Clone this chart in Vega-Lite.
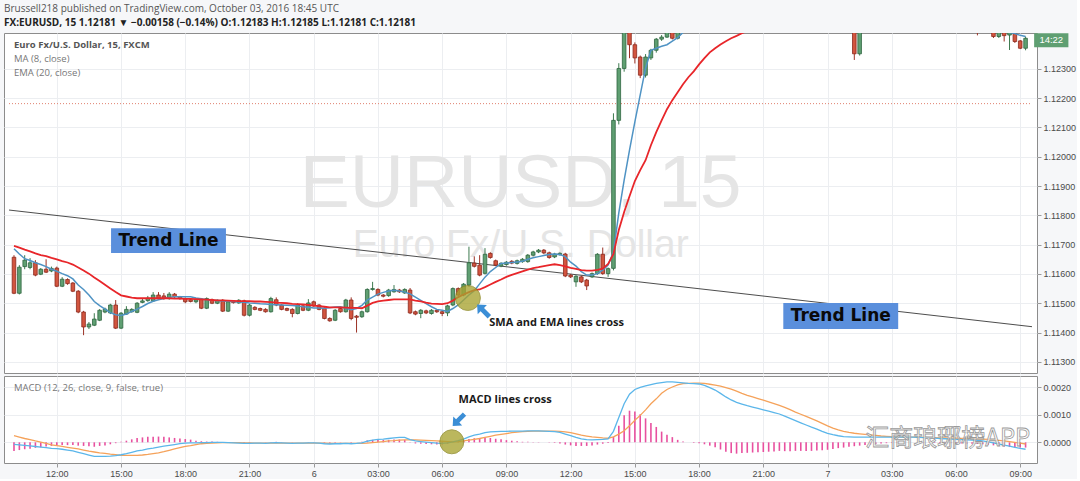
{
  "$schema": "https://vega.github.io/schema/vega-lite/v6.json",
  "background": "#f6f7f9",
  "padding": {"left": 3, "top": 3, "right": 0, "bottom": 0},
  "title": {
    "text": "Brussell218 published on TradingView.com, October 03, 2016 18:45 UTC",
    "subtitle": "FX:EURUSD, 15  1.12181 ▼ −0.00158 (−0.14%)  O:1.12183  H:1.12185  L:1.12181  C:1.12181",
    "anchor": "start",
    "frame": "group",
    "font": "Open Sans",
    "fontSize": 10,
    "fontWeight": "normal",
    "color": "#555555",
    "subtitleFont": "Open Sans",
    "subtitleFontSize": 10,
    "subtitleFontWeight": "bold",
    "subtitleColor": "#222222",
    "subtitlePadding": 4,
    "offset": 5
  },
  "datasets": {
    "candles": [
      {"t":"2016-09-05T10:00Z","o":1.11657,"h":1.11664,"l":1.11531,"c":1.11534,"ma":1.11686,"ema":1.11696,"m":-0.00007,"s":0.00024,"hi":-0.00031},
      {"t":"2016-09-05T10:15Z","o":1.11534,"h":1.11630,"l":1.11530,"c":1.11623,"ma":1.11668,"ema":1.11690,"m":-0.00009,"s":0.00019,"hi":-0.00028},
      {"t":"2016-09-05T10:30Z","o":1.11625,"h":1.11664,"l":1.11616,"c":1.11647,"ma":1.11652,"ema":1.11683,"m":-0.00011,"s":0.00014,"hi":-0.00025},
      {"t":"2016-09-05T10:45Z","o":1.11622,"h":1.11654,"l":1.11616,"c":1.11638,"ma":1.11646,"ema":1.11677,"m":-0.00013,"s":0.00010,"hi":-0.00023},
      {"t":"2016-09-05T11:00Z","o":1.11638,"h":1.11647,"l":1.11592,"c":1.11596,"ma":1.11638,"ema":1.11670,"m":-0.00015,"s":0.00005,"hi":-0.00020},
      {"t":"2016-09-05T11:15Z","o":1.11599,"h":1.11620,"l":1.11596,"c":1.11616,"ma":1.11632,"ema":1.11664,"m":-0.00017,"s":0.00001,"hi":-0.00018},
      {"t":"2016-09-05T11:30Z","o":1.11616,"h":1.11650,"l":1.11603,"c":1.11606,"ma":1.11625,"ema":1.11661,"m":-0.00019,"s":-0.00004,"hi":-0.00015},
      {"t":"2016-09-05T11:45Z","o":1.11610,"h":1.11625,"l":1.11606,"c":1.11619,"ma":1.11616,"ema":1.11655,"m":-0.00022,"s":-0.00009,"hi":-0.00013},
      {"t":"2016-09-05T12:00Z","o":1.11620,"h":1.11625,"l":1.11555,"c":1.11558,"ma":1.11609,"ema":1.11650,"m":-0.00023,"s":-0.00012,"hi":-0.00011},
      {"t":"2016-09-05T12:15Z","o":1.11558,"h":1.11589,"l":1.11555,"c":1.11582,"ma":1.11601,"ema":1.11644,"m":-0.00025,"s":-0.00015,"hi":-0.00010},
      {"t":"2016-09-05T12:30Z","o":1.11581,"h":1.11585,"l":1.11563,"c":1.11567,"ma":1.11594,"ema":1.11639,"m":-0.00028,"s":-0.00018,"hi":-0.00010},
      {"t":"2016-09-05T12:45Z","o":1.11569,"h":1.11572,"l":1.11538,"c":1.11541,"ma":1.11583,"ema":1.11632,"m":-0.00031,"s":-0.00021,"hi":-0.00010},
      {"t":"2016-09-05T13:00Z","o":1.11541,"h":1.11545,"l":1.11466,"c":1.11470,"ma":1.11562,"ema":1.11622,"m":-0.00036,"s":-0.00024,"hi":-0.00012},
      {"t":"2016-09-05T13:15Z","o":1.11470,"h":1.11474,"l":1.11391,"c":1.11419,"ma":1.11547,"ema":1.11612,"m":-0.00041,"s":-0.00028,"hi":-0.00013},
      {"t":"2016-09-05T13:30Z","o":1.11419,"h":1.11436,"l":1.11412,"c":1.11429,"ma":1.11528,"ema":1.11601,"m":-0.00046,"s":-0.00032,"hi":-0.00014},
      {"t":"2016-09-05T13:45Z","o":1.11425,"h":1.11466,"l":1.11422,"c":1.11446,"ma":1.11506,"ema":1.11588,"m":-0.00051,"s":-0.00035,"hi":-0.00016},
      {"t":"2016-09-05T14:00Z","o":1.11442,"h":1.11480,"l":1.11439,"c":1.11476,"ma":1.11492,"ema":1.11576,"m":-0.00051,"s":-0.00038,"hi":-0.00013},
      {"t":"2016-09-05T14:15Z","o":1.11470,"h":1.11485,"l":1.11466,"c":1.11480,"ma":1.11480,"ema":1.11563,"m":-0.00051,"s":-0.00040,"hi":-0.00011},
      {"t":"2016-09-05T14:30Z","o":1.11467,"h":1.11498,"l":1.11463,"c":1.11494,"ma":1.11468,"ema":1.11550,"m":-0.00050,"s":-0.00043,"hi":-0.00007},
      {"t":"2016-09-05T14:45Z","o":1.11494,"h":1.11511,"l":1.11412,"c":1.11415,"ma":1.11461,"ema":1.11538,"m":-0.00048,"s":-0.00045,"hi":-0.00003},
      {"t":"2016-09-05T15:00Z","o":1.11415,"h":1.11470,"l":1.11412,"c":1.11466,"ma":1.11458,"ema":1.11527,"m":-0.00045,"s":-0.00047,"hi":0.00002},
      {"t":"2016-09-05T15:15Z","o":1.11463,"h":1.11490,"l":1.11460,"c":1.11479,"ma":1.11463,"ema":1.11523,"m":-0.00041,"s":-0.00047,"hi":0.00006},
      {"t":"2016-09-05T15:30Z","o":1.11471,"h":1.11483,"l":1.11468,"c":1.11479,"ma":1.11472,"ema":1.11519,"m":-0.00036,"s":-0.00047,"hi":0.00011},
      {"t":"2016-09-05T15:45Z","o":1.11469,"h":1.11504,"l":1.11466,"c":1.11500,"ma":1.11480,"ema":1.11517,"m":-0.00031,"s":-0.00047,"hi":0.00016},
      {"t":"2016-09-05T16:00Z","o":1.11503,"h":1.11517,"l":1.11500,"c":1.11508,"ma":1.11489,"ema":1.11517,"m":-0.00028,"s":-0.00046,"hi":0.00018},
      {"t":"2016-09-05T16:15Z","o":1.11509,"h":1.11525,"l":1.11505,"c":1.11517,"ma":1.11499,"ema":1.11517,"m":-0.00024,"s":-0.00044,"hi":0.00020},
      {"t":"2016-09-05T16:30Z","o":1.11508,"h":1.11538,"l":1.11505,"c":1.11528,"ma":1.11507,"ema":1.11517,"m":-0.00021,"s":-0.00041,"hi":0.00020},
      {"t":"2016-09-05T16:45Z","o":1.11528,"h":1.11538,"l":1.11512,"c":1.11516,"ma":1.11512,"ema":1.11517,"m":-0.00017,"s":-0.00038,"hi":0.00021},
      {"t":"2016-09-05T17:00Z","o":1.11525,"h":1.11535,"l":1.11512,"c":1.11516,"ma":1.11516,"ema":1.11517,"m":-0.00014,"s":-0.00034,"hi":0.00020},
      {"t":"2016-09-05T17:15Z","o":1.11516,"h":1.11538,"l":1.11512,"c":1.11531,"ma":1.11520,"ema":1.11517,"m":-0.00011,"s":-0.00029,"hi":0.00018},
      {"t":"2016-09-05T17:30Z","o":1.11531,"h":1.11535,"l":1.11518,"c":1.11522,"ma":1.11522,"ema":1.11516,"m":-0.00008,"s":-0.00024,"hi":0.00016},
      {"t":"2016-09-05T17:45Z","o":1.11522,"h":1.11525,"l":1.11512,"c":1.11516,"ma":1.11522,"ema":1.11516,"m":-0.00005,"s":-0.00019,"hi":0.00014},
      {"t":"2016-09-05T18:00Z","o":1.11516,"h":1.11520,"l":1.11500,"c":1.11505,"ma":1.11522,"ema":1.11515,"m":-0.00003,"s":-0.00015,"hi":0.00012},
      {"t":"2016-09-05T18:15Z","o":1.11512,"h":1.11516,"l":1.11503,"c":1.11506,"ma":1.11522,"ema":1.11515,"m":-0.00002,"s":-0.00012,"hi":0.00010},
      {"t":"2016-09-05T18:30Z","o":1.11505,"h":1.11516,"l":1.11500,"c":1.11512,"ma":1.11518,"ema":1.11514,"m":-0.00002,"s":-0.00008,"hi":0.00006},
      {"t":"2016-09-05T18:45Z","o":1.11514,"h":1.11518,"l":1.11480,"c":1.11483,"ma":1.11515,"ema":1.11513,"m":-0.00001,"s":-0.00005,"hi":0.00004},
      {"t":"2016-09-05T19:00Z","o":1.11483,"h":1.11520,"l":1.11480,"c":1.11516,"ma":1.11512,"ema":1.11512,"m":-0.00001,"s":-0.00004,"hi":0.00003},
      {"t":"2016-09-05T19:15Z","o":1.11512,"h":1.11516,"l":1.11497,"c":1.11500,"ma":1.11510,"ema":1.11511,"m":0,"s":-0.00003,"hi":0.00003},
      {"t":"2016-09-05T19:30Z","o":1.11500,"h":1.11513,"l":1.11497,"c":1.11510,"ma":1.11509,"ema":1.11510,"m":0,"s":-0.00002,"hi":0.00002},
      {"t":"2016-09-05T19:45Z","o":1.11510,"h":1.11514,"l":1.11470,"c":1.11473,"ma":1.11508,"ema":1.11510,"m":0,"s":-0.00001,"hi":0.00001},
      {"t":"2016-09-05T20:00Z","o":1.11473,"h":1.11510,"l":1.11470,"c":1.11505,"ma":1.11507,"ema":1.11509,"m":-0.00001,"s":-0.00001,"hi":0},
      {"t":"2016-09-05T20:15Z","o":1.11508,"h":1.11511,"l":1.11499,"c":1.11502,"ma":1.11506,"ema":1.11508,"m":-0.00002,"s":-0.00001,"hi":-0.00001},
      {"t":"2016-09-05T20:30Z","o":1.11501,"h":1.11514,"l":1.11498,"c":1.11510,"ma":1.11504,"ema":1.11507,"m":-0.00003,"s":-0.00001,"hi":-0.00002},
      {"t":"2016-09-05T20:45Z","o":1.11508,"h":1.11512,"l":1.11455,"c":1.11459,"ma":1.11503,"ema":1.11507,"m":-0.00004,"s":-0.00002,"hi":-0.00002},
      {"t":"2016-09-05T21:00Z","o":1.11459,"h":1.11498,"l":1.11455,"c":1.11494,"ma":1.11501,"ema":1.11507,"m":-0.00004,"s":-0.00002,"hi":-0.00002},
      {"t":"2016-09-05T21:15Z","o":1.11486,"h":1.11490,"l":1.11476,"c":1.11479,"ma":1.11500,"ema":1.11506,"m":-0.00003,"s":-0.00003,"hi":0},
      {"t":"2016-09-05T21:30Z","o":1.11482,"h":1.11485,"l":1.11473,"c":1.11476,"ma":1.11498,"ema":1.11506,"m":-0.00003,"s":-0.00003,"hi":0},
      {"t":"2016-09-05T21:45Z","o":1.11479,"h":1.11483,"l":1.11468,"c":1.11471,"ma":1.11497,"ema":1.11505,"m":-0.00004,"s":-0.00003,"hi":-0.00001},
      {"t":"2016-09-05T22:00Z","o":1.11471,"h":1.11522,"l":1.11468,"c":1.11516,"ma":1.11496,"ema":1.11504,"m":-0.00002,"s":-0.00003,"hi":0.00001},
      {"t":"2016-09-05T22:15Z","o":1.11512,"h":1.11520,"l":1.11490,"c":1.11494,"ma":1.11495,"ema":1.11502,"m":-0.00001,"s":-0.00003,"hi":0.00002},
      {"t":"2016-09-05T22:30Z","o":1.11494,"h":1.11497,"l":1.11476,"c":1.11479,"ma":1.11494,"ema":1.11501,"m":-0.00002,"s":-0.00003,"hi":0.00001},
      {"t":"2016-09-05T22:45Z","o":1.11482,"h":1.11485,"l":1.11473,"c":1.11476,"ma":1.11493,"ema":1.11500,"m":-0.00003,"s":-0.00003,"hi":0},
      {"t":"2016-09-05T23:00Z","o":1.11479,"h":1.11483,"l":1.11452,"c":1.11465,"ma":1.11492,"ema":1.11498,"m":-0.00004,"s":-0.00003,"hi":-0.00001},
      {"t":"2016-09-05T23:15Z","o":1.11465,"h":1.11500,"l":1.11462,"c":1.11494,"ma":1.11491,"ema":1.11497,"m":-0.00003,"s":-0.00003,"hi":0},
      {"t":"2016-09-05T23:30Z","o":1.11491,"h":1.11495,"l":1.11473,"c":1.11476,"ma":1.11488,"ema":1.11496,"m":-0.00003,"s":-0.00003,"hi":0},
      {"t":"2016-09-05T23:45Z","o":1.11476,"h":1.11514,"l":1.11473,"c":1.11501,"ma":1.11486,"ema":1.11494,"m":-0.00002,"s":-0.00003,"hi":0.00001},
      {"t":"2016-09-06T00:00Z","o":1.11505,"h":1.11509,"l":1.11488,"c":1.11491,"ma":1.11484,"ema":1.11492,"m":-0.00002,"s":-0.00003,"hi":0.00001},
      {"t":"2016-09-06T00:15Z","o":1.11494,"h":1.11497,"l":1.11476,"c":1.11479,"ma":1.11484,"ema":1.11490,"m":-0.00003,"s":-0.00003,"hi":0},
      {"t":"2016-09-06T00:30Z","o":1.11482,"h":1.11486,"l":1.11445,"c":1.11448,"ma":1.11483,"ema":1.11488,"m":-0.00005,"s":-0.00003,"hi":-0.00002},
      {"t":"2016-09-06T00:45Z","o":1.11448,"h":1.11452,"l":1.11437,"c":1.11440,"ma":1.11485,"ema":1.11486,"m":-0.00006,"s":-0.00004,"hi":-0.00002},
      {"t":"2016-09-06T01:00Z","o":1.11442,"h":1.11480,"l":1.11439,"c":1.11476,"ma":1.11487,"ema":1.11486,"m":-0.00005,"s":-0.00004,"hi":-0.00001},
      {"t":"2016-09-06T01:15Z","o":1.11482,"h":1.11486,"l":1.11468,"c":1.11471,"ma":1.11488,"ema":1.11486,"m":-0.00005,"s":-0.00004,"hi":-0.00001},
      {"t":"2016-09-06T01:30Z","o":1.11471,"h":1.11515,"l":1.11468,"c":1.11511,"ma":1.11483,"ema":1.11485,"m":-0.00004,"s":-0.00004,"hi":0},
      {"t":"2016-09-06T01:45Z","o":1.11511,"h":1.11520,"l":1.11442,"c":1.11448,"ma":1.11478,"ema":1.11484,"m":-0.00005,"s":-0.00004,"hi":-0.00001},
      {"t":"2016-09-06T02:00Z","o":1.11456,"h":1.11460,"l":1.11400,"c":1.11452,"ma":1.11482,"ema":1.11484,"m":-0.00004,"s":-0.00004,"hi":0},
      {"t":"2016-09-06T02:15Z","o":1.11454,"h":1.11475,"l":1.11450,"c":1.11471,"ma":1.11493,"ema":1.11483,"m":-0.00002,"s":-0.00004,"hi":0.00002},
      {"t":"2016-09-06T02:30Z","o":1.11471,"h":1.11551,"l":1.11468,"c":1.11547,"ma":1.11511,"ema":1.11492,"m":0.00004,"s":-0.00003,"hi":0.00007},
      {"t":"2016-09-06T02:45Z","o":1.11547,"h":1.11573,"l":1.11543,"c":1.11550,"ma":1.11521,"ema":1.11501,"m":0.00008,"s":-0.00001,"hi":0.00009},
      {"t":"2016-09-06T03:00Z","o":1.11547,"h":1.11551,"l":1.11524,"c":1.11528,"ma":1.11531,"ema":1.11506,"m":0.00011,"s":0.00001,"hi":0.00010},
      {"t":"2016-09-06T03:15Z","o":1.11528,"h":1.11531,"l":1.11520,"c":1.11524,"ma":1.11537,"ema":1.11509,"m":0.00012,"s":0.00003,"hi":0.00009},
      {"t":"2016-09-06T03:30Z","o":1.11526,"h":1.11549,"l":1.11522,"c":1.11545,"ma":1.11542,"ema":1.11511,"m":0.00014,"s":0.00005,"hi":0.00009},
      {"t":"2016-09-06T03:45Z","o":1.11539,"h":1.11562,"l":1.11536,"c":1.11547,"ma":1.11544,"ema":1.11513,"m":0.00016,"s":0.00006,"hi":0.00010},
      {"t":"2016-09-06T04:00Z","o":1.11545,"h":1.11549,"l":1.11535,"c":1.11539,"ma":1.11542,"ema":1.11513,"m":0.00018,"s":0.00008,"hi":0.00010},
      {"t":"2016-09-06T04:15Z","o":1.11535,"h":1.11551,"l":1.11532,"c":1.11547,"ma":1.11538,"ema":1.11513,"m":0.00018,"s":0.00009,"hi":0.00009},
      {"t":"2016-09-06T04:30Z","o":1.11545,"h":1.11552,"l":1.11463,"c":1.11467,"ma":1.11532,"ema":1.11513,"m":0.00010,"s":0.00009,"hi":0.00001},
      {"t":"2016-09-06T04:45Z","o":1.11471,"h":1.11475,"l":1.11459,"c":1.11463,"ma":1.11521,"ema":1.11509,"m":0.00005,"s":0.00009,"hi":-0.00004},
      {"t":"2016-09-06T05:00Z","o":1.11465,"h":1.11480,"l":1.11449,"c":1.11476,"ma":1.11510,"ema":1.11506,"m":0.00003,"s":0.00008,"hi":-0.00005},
      {"t":"2016-09-06T05:15Z","o":1.11474,"h":1.11478,"l":1.11463,"c":1.11467,"ma":1.11499,"ema":1.11502,"m":0.00001,"s":0.00007,"hi":-0.00006},
      {"t":"2016-09-06T05:30Z","o":1.11465,"h":1.11480,"l":1.11461,"c":1.11476,"ma":1.11488,"ema":1.11499,"m":-0.00001,"s":0.00006,"hi":-0.00007},
      {"t":"2016-09-06T05:45Z","o":1.11476,"h":1.11480,"l":1.11467,"c":1.11471,"ma":1.11479,"ema":1.11498,"m":-0.00003,"s":0.00005,"hi":-0.00008},
      {"t":"2016-09-06T06:00Z","o":1.11471,"h":1.11475,"l":1.11456,"c":1.11465,"ma":1.11476,"ema":1.11497,"m":-0.00004,"s":0.00004,"hi":-0.00008},
      {"t":"2016-09-06T06:15Z","o":1.11467,"h":1.11495,"l":1.11456,"c":1.11491,"ma":1.11472,"ema":1.11500,"m":-0.00002,"s":0.00003,"hi":-0.00005},
      {"t":"2016-09-06T06:30Z","o":1.11494,"h":1.11554,"l":1.11490,"c":1.11550,"ma":1.11482,"ema":1.11509,"m":0.00002,"s":0.00002,"hi":0},
      {"t":"2016-09-06T06:45Z","o":1.11550,"h":1.11554,"l":1.11524,"c":1.11528,"ma":1.11494,"ema":1.11521,"m":0.00006,"s":0.00003,"hi":0.00003},
      {"t":"2016-09-06T07:00Z","o":1.11528,"h":1.11569,"l":1.11524,"c":1.11565,"ma":1.11511,"ema":1.11530,"m":0.00012,"s":0.00005,"hi":0.00007},
      {"t":"2016-09-06T07:15Z","o":1.11562,"h":1.11693,"l":1.11556,"c":1.11638,"ma":1.11528,"ema":1.11538,"m":0.00020,"s":0.00008,"hi":0.00012},
      {"t":"2016-09-06T07:30Z","o":1.11637,"h":1.11660,"l":1.11622,"c":1.11626,"ma":1.11543,"ema":1.11545,"m":0.00026,"s":0.00011,"hi":0.00015},
      {"t":"2016-09-06T07:45Z","o":1.11630,"h":1.11664,"l":1.11592,"c":1.11596,"ma":1.11566,"ema":1.11547,"m":0.00030,"s":0.00014,"hi":0.00016},
      {"t":"2016-09-06T08:00Z","o":1.11602,"h":1.11688,"l":1.11598,"c":1.11667,"ma":1.11589,"ema":1.11555,"m":0.00035,"s":0.00018,"hi":0.00017},
      {"t":"2016-09-06T08:15Z","o":1.11670,"h":1.11674,"l":1.11652,"c":1.11656,"ma":1.11608,"ema":1.11564,"m":0.00038,"s":0.00022,"hi":0.00016},
      {"t":"2016-09-06T08:30Z","o":1.11645,"h":1.11649,"l":1.11626,"c":1.11630,"ma":1.11622,"ema":1.11573,"m":0.00039,"s":0.00026,"hi":0.00013},
      {"t":"2016-09-06T08:45Z","o":1.11627,"h":1.11640,"l":1.11623,"c":1.11636,"ma":1.11636,"ema":1.11581,"m":0.00040,"s":0.00029,"hi":0.00011},
      {"t":"2016-09-06T09:00Z","o":1.11632,"h":1.11644,"l":1.11628,"c":1.11640,"ma":1.11637,"ema":1.11590,"m":0.00040,"s":0.00032,"hi":0.00008},
      {"t":"2016-09-06T09:15Z","o":1.11643,"h":1.11647,"l":1.11633,"c":1.11637,"ma":1.11639,"ema":1.11597,"m":0.00041,"s":0.00035,"hi":0.00006},
      {"t":"2016-09-06T09:30Z","o":1.11636,"h":1.11649,"l":1.11632,"c":1.11645,"ma":1.11641,"ema":1.11603,"m":0.00041,"s":0.00037,"hi":0.00004},
      {"t":"2016-09-06T09:45Z","o":1.11642,"h":1.11654,"l":1.11638,"c":1.11650,"ma":1.11643,"ema":1.11609,"m":0.00041,"s":0.00039,"hi":0.00002},
      {"t":"2016-09-06T10:00Z","o":1.11642,"h":1.11668,"l":1.11638,"c":1.11664,"ma":1.11650,"ema":1.11615,"m":0.00042,"s":0.00040,"hi":0.00002},
      {"t":"2016-09-06T10:15Z","o":1.11664,"h":1.11679,"l":1.11660,"c":1.11675,"ma":1.11655,"ema":1.11620,"m":0.00042,"s":0.00041,"hi":0.00001},
      {"t":"2016-09-06T10:30Z","o":1.11675,"h":1.11685,"l":1.11671,"c":1.11681,"ma":1.11659,"ema":1.11623,"m":0.00042,"s":0.00041,"hi":0.00001},
      {"t":"2016-09-06T10:45Z","o":1.11681,"h":1.11685,"l":1.11668,"c":1.11672,"ma":1.11663,"ema":1.11627,"m":0.00041,"s":0.00041,"hi":0},
      {"t":"2016-09-06T11:00Z","o":1.11672,"h":1.11676,"l":1.11652,"c":1.11656,"ma":1.11666,"ema":1.11630,"m":0.00040,"s":0.00041,"hi":-0.00001},
      {"t":"2016-09-06T11:15Z","o":1.11658,"h":1.11672,"l":1.11654,"c":1.11668,"ma":1.11668,"ema":1.11633,"m":0.00039,"s":0.00041,"hi":-0.00002},
      {"t":"2016-09-06T11:30Z","o":1.11666,"h":1.11674,"l":1.11662,"c":1.11670,"ma":1.11666,"ema":1.11630,"m":0.00036,"s":0.00040,"hi":-0.00004},
      {"t":"2016-09-06T11:45Z","o":1.11668,"h":1.11672,"l":1.11589,"c":1.11593,"ma":1.11659,"ema":1.11626,"m":0.00030,"s":0.00038,"hi":-0.00008},
      {"t":"2016-09-06T12:00Z","o":1.11596,"h":1.11600,"l":1.11586,"c":1.11590,"ma":1.11640,"ema":1.11621,"m":0.00024,"s":0.00035,"hi":-0.00011},
      {"t":"2016-09-06T12:15Z","o":1.11573,"h":1.11596,"l":1.11556,"c":1.11592,"ma":1.11627,"ema":1.11617,"m":0.00018,"s":0.00031,"hi":-0.00013},
      {"t":"2016-09-06T12:30Z","o":1.11590,"h":1.11594,"l":1.11569,"c":1.11573,"ma":1.11608,"ema":1.11613,"m":0.00013,"s":0.00026,"hi":-0.00013},
      {"t":"2016-09-06T12:45Z","o":1.11579,"h":1.11583,"l":1.11545,"c":1.11559,"ma":1.11596,"ema":1.11611,"m":0.00010,"s":0.00023,"hi":-0.00013},
      {"t":"2016-09-06T13:00Z","o":1.11590,"h":1.11605,"l":1.11586,"c":1.11601,"ma":1.11596,"ema":1.11611,"m":0.00009,"s":0.00020,"hi":-0.00011},
      {"t":"2016-09-06T13:15Z","o":1.11601,"h":1.11671,"l":1.11597,"c":1.11667,"ma":1.11601,"ema":1.11614,"m":0.00010,"s":0.00018,"hi":-0.00008},
      {"t":"2016-09-06T13:30Z","o":1.11667,"h":1.11690,"l":1.11597,"c":1.11601,"ma":1.11613,"ema":1.11618,"m":0.00011,"s":0.00016,"hi":-0.00005},
      {"t":"2016-09-06T13:45Z","o":1.11601,"h":1.11622,"l":1.11590,"c":1.11618,"ma":1.11630,"ema":1.11634,"m":0.00013,"s":0.00015,"hi":-0.00002},
      {"t":"2016-09-06T14:00Z","o":1.11619,"h":1.12148,"l":1.11612,"c":1.12124,"ma":1.11675,"ema":1.11668,"m":0.00040,"s":0.00020,"hi":0.00020},
      {"t":"2016-09-06T14:15Z","o":1.12124,"h":1.12319,"l":1.12110,"c":1.12301,"ma":1.11808,"ema":1.11750,"m":0.00090,"s":0.00030,"hi":0.00060},
      {"t":"2016-09-06T14:30Z","o":1.12301,"h":1.12460,"l":1.12290,"c":1.12440,"ma":1.11920,"ema":1.11811,"m":0.00140,"s":0.00042,"hi":0.00098},
      {"t":"2016-09-06T14:45Z","o":1.12430,"h":1.12445,"l":1.12336,"c":1.12382,"ma":1.12022,"ema":1.11865,"m":0.00175,"s":0.00060,"hi":0.00115},
      {"t":"2016-09-06T15:00Z","o":1.12382,"h":1.12390,"l":1.12318,"c":1.12337,"ma":1.12119,"ema":1.11917,"m":0.00192,"s":0.00080,"hi":0.00112},
      {"t":"2016-09-06T15:15Z","o":1.12340,"h":1.12345,"l":1.12268,"c":1.12278,"ma":1.12211,"ema":1.11954,"m":0.00200,"s":0.00098,"hi":0.00102},
      {"t":"2016-09-06T15:30Z","o":1.12278,"h":1.12350,"l":1.12270,"c":1.12340,"ma":1.12302,"ema":1.11988,"m":0.00205,"s":0.00118,"hi":0.00087},
      {"t":"2016-09-06T15:45Z","o":1.12337,"h":1.12368,"l":1.12330,"c":1.12363,"ma":1.12363,"ema":1.12039,"m":0.00210,"s":0.00140,"hi":0.00070},
      {"t":"2016-09-06T16:00Z","o":1.12363,"h":1.12405,"l":1.12355,"c":1.12401,"ma":1.12370,"ema":1.12084,"m":0.00214,"s":0.00158,"hi":0.00056},
      {"t":"2016-09-06T16:15Z","o":1.12401,"h":1.12415,"l":1.12395,"c":1.12408,"ma":1.12377,"ema":1.12124,"m":0.00217,"s":0.00178,"hi":0.00039},
      {"t":"2016-09-06T16:30Z","o":1.12408,"h":1.12440,"l":1.12405,"c":1.12428,"ma":1.12382,"ema":1.12162,"m":0.00220,"s":0.00192,"hi":0.00028},
      {"t":"2016-09-06T16:45Z","o":1.12432,"h":1.12440,"l":1.12400,"c":1.12404,"ma":1.12394,"ema":1.12193,"m":0.00220,"s":0.00201,"hi":0.00019},
      {"t":"2016-09-06T17:00Z","o":1.12404,"h":1.12450,"l":1.12400,"c":1.12440,"ma":1.12406,"ema":1.12220,"m":0.00218,"s":0.00209,"hi":0.00009},
      {"t":"2016-09-06T17:15Z","o":1.12440,"h":1.12475,"l":1.12432,"c":1.12468,"ma":1.12424,"ema":1.12247,"m":0.00216,"s":0.00213,"hi":0.00003},
      {"t":"2016-09-06T17:30Z","o":1.12468,"h":1.12505,"l":1.12460,"c":1.12498,"ma":1.12435,"ema":1.12271,"m":0.00214,"s":0.00214,"hi":0},
      {"t":"2016-09-06T17:45Z","o":1.12498,"h":1.12520,"l":1.12480,"c":1.12490,"ma":1.12445,"ema":1.12291,"m":0.00213,"s":0.00215,"hi":-0.00002},
      {"t":"2016-09-06T18:00Z","o":1.12490,"h":1.12530,"l":1.12485,"c":1.12522,"ma":1.12458,"ema":1.12315,"m":0.00212,"s":0.00215,"hi":-0.00003},
      {"t":"2016-09-06T18:15Z","o":1.12522,"h":1.12545,"l":1.12505,"c":1.12510,"ma":1.12470,"ema":1.12336,"m":0.00207,"s":0.00214,"hi":-0.00007},
      {"t":"2016-09-06T18:30Z","o":1.12510,"h":1.12530,"l":1.12490,"c":1.12525,"ma":1.12490,"ema":1.12356,"m":0.00199,"s":0.00211,"hi":-0.00012},
      {"t":"2016-09-06T18:45Z","o":1.12525,"h":1.12560,"l":1.12515,"c":1.12548,"ma":1.12505,"ema":1.12370,"m":0.00190,"s":0.00208,"hi":-0.00018},
      {"t":"2016-09-06T19:00Z","o":1.12548,"h":1.12570,"l":1.12530,"c":1.12540,"ma":1.12515,"ema":1.12383,"m":0.00178,"s":0.00204,"hi":-0.00026},
      {"t":"2016-09-06T19:15Z","o":1.12540,"h":1.12555,"l":1.12520,"c":1.12532,"ma":1.12522,"ema":1.12394,"m":0.00165,"s":0.00199,"hi":-0.00034},
      {"t":"2016-09-06T19:30Z","o":1.12532,"h":1.12548,"l":1.12512,"c":1.12520,"ma":1.12527,"ema":1.12404,"m":0.00154,"s":0.00193,"hi":-0.00039},
      {"t":"2016-09-06T19:45Z","o":1.12520,"h":1.12540,"l":1.12505,"c":1.12530,"ma":1.12530,"ema":1.12412,"m":0.00145,"s":0.00186,"hi":-0.00041},
      {"t":"2016-09-06T20:00Z","o":1.12530,"h":1.12560,"l":1.12520,"c":1.12552,"ma":1.12532,"ema":1.12421,"m":0.00139,"s":0.00178,"hi":-0.00039},
      {"t":"2016-09-06T20:15Z","o":1.12552,"h":1.12575,"l":1.12540,"c":1.12545,"ma":1.12535,"ema":1.12429,"m":0.00133,"s":0.00171,"hi":-0.00038},
      {"t":"2016-09-06T20:30Z","o":1.12545,"h":1.12560,"l":1.12525,"c":1.12530,"ma":1.12535,"ema":1.12436,"m":0.00128,"s":0.00165,"hi":-0.00037},
      {"t":"2016-09-06T20:45Z","o":1.12530,"h":1.12545,"l":1.12510,"c":1.12518,"ma":1.12533,"ema":1.12442,"m":0.00123,"s":0.00159,"hi":-0.00036},
      {"t":"2016-09-06T21:00Z","o":1.12518,"h":1.12535,"l":1.12500,"c":1.12525,"ma":1.12532,"ema":1.12447,"m":0.00118,"s":0.00153,"hi":-0.00035},
      {"t":"2016-09-06T21:15Z","o":1.12525,"h":1.12540,"l":1.12512,"c":1.12520,"ma":1.12530,"ema":1.12452,"m":0.00113,"s":0.00147,"hi":-0.00034},
      {"t":"2016-09-06T21:30Z","o":1.12520,"h":1.12532,"l":1.12505,"c":1.12512,"ma":1.12527,"ema":1.12456,"m":0.00108,"s":0.00141,"hi":-0.00033},
      {"t":"2016-09-06T21:45Z","o":1.12512,"h":1.12528,"l":1.12500,"c":1.12520,"ma":1.12524,"ema":1.12460,"m":0.00103,"s":0.00134,"hi":-0.00031},
      {"t":"2016-09-06T22:00Z","o":1.12520,"h":1.12535,"l":1.12508,"c":1.12515,"ma":1.12521,"ema":1.12463,"m":0.00095,"s":0.00127,"hi":-0.00032},
      {"t":"2016-09-06T22:15Z","o":1.12515,"h":1.12525,"l":1.12500,"c":1.12508,"ma":1.12518,"ema":1.12466,"m":0.00087,"s":0.00119,"hi":-0.00032},
      {"t":"2016-09-06T22:30Z","o":1.12508,"h":1.12520,"l":1.12495,"c":1.12512,"ma":1.12515,"ema":1.12468,"m":0.00079,"s":0.00110,"hi":-0.00031},
      {"t":"2016-09-06T22:45Z","o":1.12512,"h":1.12522,"l":1.12500,"c":1.12505,"ma":1.12513,"ema":1.12470,"m":0.00071,"s":0.00102,"hi":-0.00031},
      {"t":"2016-09-06T23:00Z","o":1.12505,"h":1.12518,"l":1.12490,"c":1.12498,"ma":1.12510,"ema":1.12472,"m":0.00063,"s":0.00094,"hi":-0.00031},
      {"t":"2016-09-06T23:15Z","o":1.12498,"h":1.12510,"l":1.12485,"c":1.12502,"ma":1.12507,"ema":1.12473,"m":0.00055,"s":0.00086,"hi":-0.00031},
      {"t":"2016-09-06T23:30Z","o":1.12502,"h":1.12512,"l":1.12488,"c":1.12495,"ma":1.12504,"ema":1.12474,"m":0.00048,"s":0.00078,"hi":-0.00030},
      {"t":"2016-09-06T23:45Z","o":1.12495,"h":1.12505,"l":1.12482,"c":1.12490,"ma":1.12501,"ema":1.12475,"m":0.00040,"s":0.00069,"hi":-0.00029},
      {"t":"2016-09-07T00:00Z","o":1.12490,"h":1.12500,"l":1.12475,"c":1.12480,"ma":1.12497,"ema":1.12475,"m":0.00033,"s":0.00060,"hi":-0.00027},
      {"t":"2016-09-07T00:15Z","o":1.12480,"h":1.12495,"l":1.12470,"c":1.12488,"ma":1.12493,"ema":1.12476,"m":0.00028,"s":0.00052,"hi":-0.00024},
      {"t":"2016-09-07T00:30Z","o":1.12488,"h":1.12498,"l":1.12465,"c":1.12470,"ma":1.12488,"ema":1.12476,"m":0.00024,"s":0.00045,"hi":-0.00021},
      {"t":"2016-09-07T00:45Z","o":1.12470,"h":1.12485,"l":1.12455,"c":1.12462,"ma":1.12483,"ema":1.12475,"m":0.00021,"s":0.00040,"hi":-0.00019},
      {"t":"2016-09-07T01:00Z","o":1.12462,"h":1.12478,"l":1.12450,"c":1.12468,"ma":1.12478,"ema":1.12475,"m":0.00020,"s":0.00036,"hi":-0.00016},
      {"t":"2016-09-07T01:15Z","o":1.12468,"h":1.12474,"l":1.12330,"c":1.12351,"ma":1.12465,"ema":1.12466,"m":0.00019,"s":0.00033,"hi":-0.00014},
      {"t":"2016-09-07T01:30Z","o":1.12351,"h":1.12445,"l":1.12345,"c":1.12438,"ma":1.12461,"ema":1.12463,"m":0.00019,"s":0.00031,"hi":-0.00012},
      {"t":"2016-09-07T01:45Z","o":1.12438,"h":1.12470,"l":1.12430,"c":1.12460,"ma":1.12458,"ema":1.12463,"m":0.00019,"s":0.00029,"hi":-0.00010},
      {"t":"2016-09-07T02:00Z","o":1.12460,"h":1.12480,"l":1.12445,"c":1.12468,"ma":1.12455,"ema":1.12463,"m":0.00019,"s":0.00027,"hi":-0.00008},
      {"t":"2016-09-07T02:15Z","o":1.12468,"h":1.12490,"l":1.12455,"c":1.12475,"ma":1.12452,"ema":1.12463,"m":0.00019,"s":0.00025,"hi":-0.00006},
      {"t":"2016-09-07T02:30Z","o":1.12475,"h":1.12492,"l":1.12460,"c":1.12470,"ma":1.12450,"ema":1.12464,"m":0.00019,"s":0.00023,"hi":-0.00004},
      {"t":"2016-09-07T02:45Z","o":1.12470,"h":1.12485,"l":1.12455,"c":1.12478,"ma":1.12450,"ema":1.12464,"m":0.00019,"s":0.00022,"hi":-0.00003},
      {"t":"2016-09-07T03:00Z","o":1.12478,"h":1.12495,"l":1.12465,"c":1.12472,"ma":1.12451,"ema":1.12464,"m":0.00019,"s":0.00021,"hi":-0.00002},
      {"t":"2016-09-07T03:15Z","o":1.12472,"h":1.12488,"l":1.12458,"c":1.12465,"ma":1.12467,"ema":1.12464,"m":0.00019,"s":0.00020,"hi":-0.00001},
      {"t":"2016-09-07T03:30Z","o":1.12465,"h":1.12480,"l":1.12450,"c":1.12470,"ma":1.12468,"ema":1.12464,"m":0.00019,"s":0.00019,"hi":0},
      {"t":"2016-09-07T03:45Z","o":1.12470,"h":1.12485,"l":1.12455,"c":1.12460,"ma":1.12468,"ema":1.12463,"m":0.00019,"s":0.00019,"hi":0},
      {"t":"2016-09-07T04:00Z","o":1.12460,"h":1.12475,"l":1.12448,"c":1.12468,"ma":1.12467,"ema":1.12463,"m":0.00019,"s":0.00019,"hi":0},
      {"t":"2016-09-07T04:15Z","o":1.12468,"h":1.12482,"l":1.12452,"c":1.12458,"ma":1.12466,"ema":1.12462,"m":0.00018,"s":0.00018,"hi":0},
      {"t":"2016-09-07T04:30Z","o":1.12458,"h":1.12472,"l":1.12445,"c":1.12462,"ma":1.12464,"ema":1.12462,"m":0.00017,"s":0.00018,"hi":-0.00001},
      {"t":"2016-09-07T04:45Z","o":1.12462,"h":1.12478,"l":1.12448,"c":1.12455,"ma":1.12462,"ema":1.12461,"m":0.00016,"s":0.00017,"hi":-0.00001},
      {"t":"2016-09-07T05:00Z","o":1.12455,"h":1.12470,"l":1.12442,"c":1.12460,"ma":1.12460,"ema":1.12461,"m":0.00015,"s":0.00017,"hi":-0.00002},
      {"t":"2016-09-07T05:15Z","o":1.12460,"h":1.12475,"l":1.12445,"c":1.12452,"ma":1.12458,"ema":1.12460,"m":0.00014,"s":0.00016,"hi":-0.00002},
      {"t":"2016-09-07T05:30Z","o":1.12452,"h":1.12465,"l":1.12438,"c":1.12448,"ma":1.12456,"ema":1.12459,"m":0.00013,"s":0.00016,"hi":-0.00003},
      {"t":"2016-09-07T05:45Z","o":1.12448,"h":1.12462,"l":1.12435,"c":1.12455,"ma":1.12454,"ema":1.12458,"m":0.00012,"s":0.00015,"hi":-0.00003},
      {"t":"2016-09-07T06:00Z","o":1.12455,"h":1.12468,"l":1.12440,"c":1.12445,"ma":1.12452,"ema":1.12457,"m":0.00011,"s":0.00015,"hi":-0.00004},
      {"t":"2016-09-07T06:15Z","o":1.12445,"h":1.12460,"l":1.12432,"c":1.12450,"ma":1.12450,"ema":1.12456,"m":0.00010,"s":0.00014,"hi":-0.00004},
      {"t":"2016-09-07T06:30Z","o":1.12450,"h":1.12462,"l":1.12435,"c":1.12440,"ma":1.12448,"ema":1.12455,"m":0.00009,"s":0.00014,"hi":-0.00005},
      {"t":"2016-09-07T06:45Z","o":1.12440,"h":1.12455,"l":1.12430,"c":1.12448,"ma":1.12446,"ema":1.12454,"m":0.00008,"s":0.00013,"hi":-0.00005},
      {"t":"2016-09-07T07:00Z","o":1.12448,"h":1.12458,"l":1.12414,"c":1.12438,"ma":1.12444,"ema":1.12452,"m":0.00007,"s":0.00013,"hi":-0.00006},
      {"t":"2016-09-07T07:15Z","o":1.12438,"h":1.12450,"l":1.12428,"c":1.12440,"ma":1.12442,"ema":1.12451,"m":0.00005,"s":0.00012,"hi":-0.00007},
      {"t":"2016-09-07T07:30Z","o":1.12440,"h":1.12455,"l":1.12428,"c":1.12432,"ma":1.12439,"ema":1.12449,"m":0.00002,"s":0.00011,"hi":-0.00009},
      {"t":"2016-09-07T07:45Z","o":1.12432,"h":1.12442,"l":1.12405,"c":1.12410,"ma":1.12436,"ema":1.12446,"m":-0.00002,"s":0.00009,"hi":-0.00011},
      {"t":"2016-09-07T08:00Z","o":1.12410,"h":1.12440,"l":1.12405,"c":1.12428,"ma":1.12432,"ema":1.12444,"m":-0.00006,"s":0.00007,"hi":-0.00013},
      {"t":"2016-09-07T08:15Z","o":1.12428,"h":1.12435,"l":1.12393,"c":1.12413,"ma":1.12428,"ema":1.12442,"m":-0.00010,"s":0.00005,"hi":-0.00015},
      {"t":"2016-09-07T08:30Z","o":1.12415,"h":1.12435,"l":1.12364,"c":1.12425,"ma":1.12424,"ema":1.12440,"m":-0.00014,"s":0.00003,"hi":-0.00017},
      {"t":"2016-09-07T08:45Z","o":1.12430,"h":1.12438,"l":1.12388,"c":1.12393,"ma":1.12420,"ema":1.12435,"m":-0.00018,"s":0.00000,"hi":-0.00018},
      {"t":"2016-09-07T09:00Z","o":1.12395,"h":1.12398,"l":1.12367,"c":1.12370,"ma":1.12414,"ema":1.12429,"m":-0.00022,"s":-0.00003,"hi":-0.00019},
      {"t":"2016-09-07T09:15Z","o":1.12370,"h":1.12410,"l":1.12363,"c":1.12404,"ma":1.12410,"ema":1.12427,"m":-0.00025,"s":-0.00006,"hi":-0.00019}
    ]
  },
  "spacing": 1,
  "vconcat": [
    {
      "width": 1033,
      "height": 340,
      "data": {"name": "candles"},
      "encoding": {
        "x": {
          "field": "t", "type": "temporal",
          "scale": {"type": "utc", "domain": [{"year":2016,"month":9,"date":5,"hours":9,"minutes":46,"utc":true},{"year":2016,"month":9,"date":7,"hours":9,"minutes":33,"utc":true}]},
          "axis": {
            "values": [
              {"year":2016,"month":9,"date":5,"hours":12,"utc":true},{"year":2016,"month":9,"date":5,"hours":15,"utc":true},{"year":2016,"month":9,"date":5,"hours":18,"utc":true},{"year":2016,"month":9,"date":5,"hours":21,"utc":true},
              {"year":2016,"month":9,"date":6,"hours":0,"utc":true},{"year":2016,"month":9,"date":6,"hours":3,"utc":true},{"year":2016,"month":9,"date":6,"hours":6,"utc":true},{"year":2016,"month":9,"date":6,"hours":9,"utc":true},
              {"year":2016,"month":9,"date":6,"hours":12,"utc":true},{"year":2016,"month":9,"date":6,"hours":15,"utc":true},{"year":2016,"month":9,"date":6,"hours":18,"utc":true},{"year":2016,"month":9,"date":6,"hours":21,"utc":true},
              {"year":2016,"month":9,"date":7,"hours":0,"utc":true},{"year":2016,"month":9,"date":7,"hours":3,"utc":true},{"year":2016,"month":9,"date":7,"hours":6,"utc":true},{"year":2016,"month":9,"date":7,"hours":9,"utc":true}
            ],
            "tickCount": 40,
            "labels": false, "ticks": false, "domain": false, "grid": true, "title": null
          }
        }
      },
      "layer": [
        {
          "data": {"values": [{"t": "2016-09-06T09:40Z", "p": 1.11829, "txt": "EURUSD, 15"}]},
          "mark": {"type": "text", "font": "Liberation Sans", "fontSize": 75, "color": "#e5e5e5", "align": "center", "baseline": "alphabetic", "clip": true},
          "encoding": {"y": {"field": "p", "type": "quantitative", "scale": {"domain": [1.11262, 1.12422], "nice": false, "zero": false}, "axis": {"title": null}}, "text": {"field": "txt"}}
        },
        {
          "data": {"values": [{"t": "2016-09-06T09:40Z", "p": 1.11657, "txt": "Euro Fx/U.S. Dollar"}]},
          "mark": {"type": "text", "font": "Liberation Sans", "fontSize": 39, "color": "#e5e5e5", "align": "center", "baseline": "alphabetic", "clip": true},
          "encoding": {"y": {"field": "p", "type": "quantitative", "scale": {"domain": [1.11262, 1.12422], "nice": false, "zero": false}, "axis": {"title": null}}, "text": {"field": "txt"}}
        },
        {
          "data": {"values": [{"t": "2016-09-05T09:46Z", "p": 1.12181}, {"t": "2016-09-07T09:33Z", "p": 1.12181}]},
          "mark": {"type": "line", "color": "#e0826f", "strokeDash": [1, 2], "strokeWidth": 1, "clip": true},
          "encoding": {"y": {"field": "p", "type": "quantitative", "scale": {"domain": [1.11262, 1.12422], "nice": false, "zero": false}, "axis": {"title": null}}}
        },
        {
          "data": {"values": [{"t": "2016-09-05T09:46Z", "p": 1.11818}, {"t": "2016-09-07T09:33Z", "p": 1.11420}]},
          "mark": {"type": "line", "color": "#3a3a3a", "strokeWidth": 1, "opacity": 0.9, "clip": true},
          "encoding": {"y": {"field": "p", "type": "quantitative", "scale": {"domain": [1.11262, 1.12422], "nice": false, "zero": false}, "axis": {"title": null}}}
        },
        {
          "mark": {"type": "rule", "strokeWidth": 1, "clip": true},
          "encoding": {
            "y": {"field": "l", "type": "quantitative", "scale": {"domain": [1.11262, 1.12422], "nice": false, "zero": false},
                  "axis": {"orient": "right", "values": [1.113, 1.114, 1.115, 1.116, 1.117, 1.118, 1.119, 1.12, 1.121, 1.122, 1.123], "tickCount": 40, "format": ".5f", "title": null, "grid": true, "tickSize": 4, "labelPadding": 2, "domain": false, "labelOverlap": false}},
            "y2": {"field": "h"},
            "color": {"condition": {"test": "datum.c >= datum.o", "value": "#3d7a4f"}, "value": "#9b3226"}
          }
        },
        {
          "mark": {"type": "bar", "width": 3.6, "strokeWidth": 0.8, "clip": true},
          "encoding": {
            "y": {"field": "o", "type": "quantitative", "scale": {"domain": [1.11262, 1.12422], "nice": false, "zero": false}, "axis": {"title": null}},
            "y2": {"field": "c"},
            "color": {"condition": {"test": "datum.c >= datum.o", "value": "#5f9f72"}, "value": "#d2553f"},
            "stroke": {"condition": {"test": "datum.c >= datum.o", "value": "#2f6640"}, "value": "#8c2a1e"}
          }
        },
        {
          "mark": {"type": "line", "color": "#4f93c4", "strokeWidth": 1.5, "clip": true},
          "encoding": {"y": {"field": "ma", "type": "quantitative", "scale": {"domain": [1.11262, 1.12422], "nice": false, "zero": false}, "axis": {"title": null}}}
        },
        {
          "mark": {"type": "line", "color": "#e8262a", "strokeWidth": 1.8, "clip": true},
          "encoding": {"y": {"field": "ema", "type": "quantitative", "scale": {"domain": [1.11262, 1.12422], "nice": false, "zero": false}, "axis": {"title": null}}}
        },
        {
          "data": {"values": [{"t": "2016-09-06T07:12Z", "p": 1.11518}]},
          "mark": {"type": "point", "shape": "circle", "size": 625, "filled": true, "color": "#a8a330", "opacity": 0.78, "stroke": "#8a8620", "strokeWidth": 1, "clip": true},
          "encoding": {"y": {"field": "p", "type": "quantitative", "scale": {"domain": [1.11262, 1.12422], "nice": false, "zero": false}, "axis": {"title": null}}}
        },
        {
          "data": {"values": [{"t": "2016-09-06T07:55Z", "p": 1.11475}]},
          "mark": {"type": "point", "shape": "M0,-1L0.75,-0.15L0.28,-0.15L0.28,1L-0.28,1L-0.28,-0.15L-0.75,-0.15Z", "size": 300, "filled": true, "color": "#3b8ed6", "opacity": 1, "angle": 315, "clip": true},
          "encoding": {"y": {"field": "p", "type": "quantitative", "scale": {"domain": [1.11262, 1.12422], "nice": false, "zero": false}, "axis": {"title": null}}}
        },
        {
          "data": {"values": [
            {"t": "2016-09-05T14:32Z", "t2": "2016-09-05T19:54Z", "p": 1.11756, "p2": 1.11671},
            {"t": "2016-09-06T21:56Z", "t2": "2016-09-07T03:18Z", "p": 1.11501, "p2": 1.11412}
          ]},
          "mark": {"type": "rect", "color": "#5a8fdc", "clip": true},
          "encoding": {
            "x2": {"field": "t2"},
            "y": {"field": "p", "type": "quantitative", "scale": {"domain": [1.11262, 1.12422], "nice": false, "zero": false}, "axis": {"title": null}},
            "y2": {"field": "p2"}
          }
        },
        {
          "data": {"values": [
            {"t": "2016-09-05T17:13Z", "p": 1.11714, "txt": "Trend Line"},
            {"t": "2016-09-07T00:37Z", "p": 1.11457, "txt": "Trend Line"}
          ]},
          "mark": {"type": "text", "font": "DejaVu Sans", "fontWeight": "bold", "fontSize": 17, "color": "#0a0a0a", "align": "center", "baseline": "middle", "clip": true},
          "encoding": {"y": {"field": "p", "type": "quantitative", "scale": {"domain": [1.11262, 1.12422], "nice": false, "zero": false}, "axis": {"title": null}}, "text": {"field": "txt"}}
        },
        {
          "data": {"values": [{"t": "2016-09-06T08:12Z", "p": 1.11433, "txt": "SMA and EMA lines cross"}]},
          "mark": {"type": "text", "font": "Open Sans", "fontWeight": "bold", "fontSize": 11, "color": "#1a1a1a", "align": "left", "baseline": "middle", "clip": true},
          "encoding": {"y": {"field": "p", "type": "quantitative", "scale": {"domain": [1.11262, 1.12422], "nice": false, "zero": false}, "axis": {"title": null}}, "text": {"field": "txt"}}
        },
        {
          "data": {"values": [{"t": "2016-09-05T10:00Z", "p": 1.12380, "txt": "Euro Fx/U.S. Dollar, 15, FXCM"}]},
          "mark": {"type": "text", "font": "Open Sans", "fontWeight": "bold", "fontSize": 9.5, "color": "#555555", "align": "left", "baseline": "middle", "clip": true},
          "encoding": {"y": {"field": "p", "type": "quantitative", "scale": {"domain": [1.11262, 1.12422], "nice": false, "zero": false}, "axis": {"title": null}}, "text": {"field": "txt"}}
        },
        {
          "data": {"values": [
            {"t": "2016-09-05T10:00Z", "p": 1.12334, "txt": "MA (8, close)"},
            {"t": "2016-09-05T10:00Z", "p": 1.12287, "txt": "EMA (20, close)"}
          ]},
          "mark": {"type": "text", "font": "Open Sans", "fontSize": 9.5, "color": "#777777", "align": "left", "baseline": "middle", "clip": true},
          "encoding": {"y": {"field": "p", "type": "quantitative", "scale": {"domain": [1.11262, 1.12422], "nice": false, "zero": false}, "axis": {"title": null}}, "text": {"field": "txt"}}
        },
        {
          "data": {"values": [{"t": "2016-09-07T09:39Z", "t2": "2016-09-07T11:15Z", "p": 1.12421, "p2": 1.12373}]},
          "mark": {"type": "rect", "color": "#5f9f72"},
          "encoding": {
            "x2": {"field": "t2"},
            "y": {"field": "p", "type": "quantitative", "scale": {"domain": [1.11262, 1.12422], "nice": false, "zero": false}, "axis": {"title": null}},
            "y2": {"field": "p2"}
          }
        },
        {
          "data": {"values": [{"t": "2016-09-07T10:27Z", "p": 1.12397, "txt": "14:22"}]},
          "mark": {"type": "text", "font": "Liberation Sans", "fontSize": 9.5, "color": "#ffffff", "align": "center", "baseline": "middle"},
          "encoding": {"y": {"field": "p", "type": "quantitative", "scale": {"domain": [1.11262, 1.12422], "nice": false, "zero": false}, "axis": {"title": null}}, "text": {"field": "txt"}}
        }
      ]
    },
    {
      "width": 1033,
      "height": 87,
      "data": {"name": "candles"},
      "encoding": {
        "x": {
          "field": "t", "type": "temporal",
          "scale": {"type": "utc", "domain": [{"year":2016,"month":9,"date":5,"hours":9,"minutes":46,"utc":true},{"year":2016,"month":9,"date":7,"hours":9,"minutes":33,"utc":true}]},
          "axis": {
            "values": [
              {"year":2016,"month":9,"date":5,"hours":12,"utc":true},{"year":2016,"month":9,"date":5,"hours":15,"utc":true},{"year":2016,"month":9,"date":5,"hours":18,"utc":true},{"year":2016,"month":9,"date":5,"hours":21,"utc":true},
              {"year":2016,"month":9,"date":6,"hours":0,"utc":true},{"year":2016,"month":9,"date":6,"hours":3,"utc":true},{"year":2016,"month":9,"date":6,"hours":6,"utc":true},{"year":2016,"month":9,"date":6,"hours":9,"utc":true},
              {"year":2016,"month":9,"date":6,"hours":12,"utc":true},{"year":2016,"month":9,"date":6,"hours":15,"utc":true},{"year":2016,"month":9,"date":6,"hours":18,"utc":true},{"year":2016,"month":9,"date":6,"hours":21,"utc":true},
              {"year":2016,"month":9,"date":7,"hours":0,"utc":true},{"year":2016,"month":9,"date":7,"hours":3,"utc":true},{"year":2016,"month":9,"date":7,"hours":6,"utc":true},{"year":2016,"month":9,"date":7,"hours":9,"utc":true}
            ],
            "tickCount": 40,
            "labelExpr": "utchours(datum.value) == 0 ? utcFormat(datum.value, '%-d') : utcFormat(datum.value, '%H:%M')",
            "grid": true, "ticks": true, "tickSize": 4, "domain": false, "title": null, "labelPadding": 2, "labelFlush": false, "labelOverlap": false
          }
        }
      },
      "layer": [
        {
          "mark": {"type": "bar", "width": 1.6, "color": "#e8509f", "clip": true},
          "encoding": {
            "y": {"field": "hi", "type": "quantitative", "scale": {"domain": [-0.00075, 0.00241], "nice": false, "zero": false},
                  "axis": {"orient": "right", "values": [0, 0.001, 0.002], "tickCount": 10, "format": ".4f", "title": null, "grid": true, "tickSize": 4, "labelPadding": 2, "domain": false, "labelOverlap": false}},
            "y2": {"datum": 0}
          }
        },
        {
          "mark": {"type": "line", "color": "#f5a25a", "strokeWidth": 1.3, "clip": true},
          "encoding": {"y": {"field": "s", "type": "quantitative", "scale": {"domain": [-0.00075, 0.00241], "nice": false, "zero": false}, "axis": {"title": null}}}
        },
        {
          "mark": {"type": "line", "color": "#5bb6ea", "strokeWidth": 1.3, "clip": true},
          "encoding": {"y": {"field": "m", "type": "quantitative", "scale": {"domain": [-0.00075, 0.00241], "nice": false, "zero": false}, "axis": {"title": null}}}
        },
        {
          "data": {"values": [{"t": "2016-09-06T06:27Z", "v": 0.00002}]},
          "mark": {"type": "point", "shape": "circle", "size": 576, "filled": true, "color": "#a8a330", "opacity": 0.78, "stroke": "#8a8620", "strokeWidth": 1, "clip": true},
          "encoding": {"y": {"field": "v", "type": "quantitative", "scale": {"domain": [-0.00075, 0.00241], "nice": false, "zero": false}, "axis": {"title": null}}}
        },
        {
          "data": {"values": [{"t": "2016-09-06T06:46Z", "v": 0.00081}]},
          "mark": {"type": "point", "shape": "M0,-1L0.75,-0.15L0.28,-0.15L0.28,1L-0.28,1L-0.28,-0.15L-0.75,-0.15Z", "size": 280, "filled": true, "color": "#3b8ed6", "opacity": 1, "angle": 225, "clip": true},
          "encoding": {"y": {"field": "v", "type": "quantitative", "scale": {"domain": [-0.00075, 0.00241], "nice": false, "zero": false}, "axis": {"title": null}}}
        },
        {
          "data": {"values": [{"t": "2016-09-06T06:46Z", "v": 0.00153, "txt": "MACD lines cross"}]},
          "mark": {"type": "text", "font": "Open Sans", "fontWeight": "bold", "fontSize": 11, "color": "#1a1a1a", "align": "left", "baseline": "middle", "clip": true},
          "encoding": {"y": {"field": "v", "type": "quantitative", "scale": {"domain": [-0.00075, 0.00241], "nice": false, "zero": false}, "axis": {"title": null}}, "text": {"field": "txt"}}
        },
        {
          "data": {"values": [{"t": "2016-09-05T10:00Z", "v": 0.00197, "txt": "MACD (12, 26, close, 9, false, true)"}]},
          "mark": {"type": "text", "font": "Open Sans", "fontSize": 9.5, "color": "#777777", "align": "left", "baseline": "middle", "clip": true},
          "encoding": {"y": {"field": "v", "type": "quantitative", "scale": {"domain": [-0.00075, 0.00241], "nice": false, "zero": false}, "axis": {"title": null}}, "text": {"field": "txt"}}
        },
        {
          "data": {"values": [{"t": "2016-09-07T05:37Z", "v": 0.00012, "txt": "汇商琅琊榜APP"}]},
          "mark": {"type": "text", "font": "Noto Sans CJK SC", "fontSize": 24, "color": "#ffffff", "fillOpacity": 0.7, "stroke": "#9a9a9a", "strokeWidth": 0.8, "align": "center", "baseline": "middle", "clip": true},
          "encoding": {"y": {"field": "v", "type": "quantitative", "scale": {"domain": [-0.00075, 0.00241], "nice": false, "zero": false}, "axis": {"title": null}}, "text": {"field": "txt"}}
        }
      ]
    }
  ],
  "config": {
    "view": {"stroke": "#8c8c8c", "fill": "#ffffff"},
    "axis": {"labelFont": "Liberation Sans", "labelFontSize": 9, "labelColor": "#4a4a4a", "tickColor": "#9a9a9a", "gridColor": "#eceef1", "labelOverlap": false}
  }
}
